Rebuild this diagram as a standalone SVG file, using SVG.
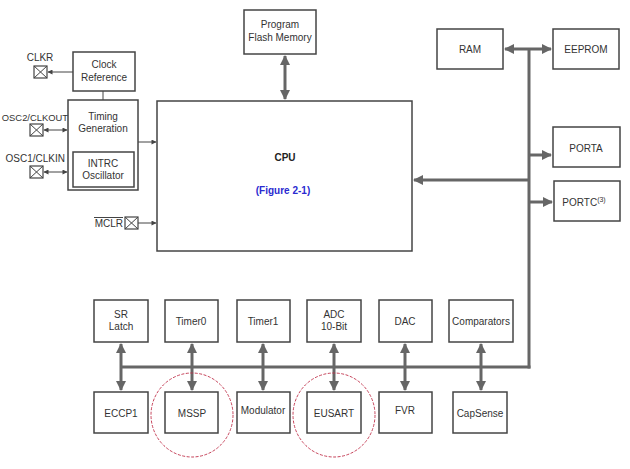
<svg xmlns="http://www.w3.org/2000/svg" width="630" height="469" viewBox="0 0 630 469">
<defs>
<style>
.box{fill:#fff;stroke:#444;stroke-width:1.5}
.t{font-family:"Liberation Sans",Arial,sans-serif;font-size:10px;fill:#333;text-anchor:middle}
.bus{stroke:#666;stroke-width:3;fill:none}
.thin{stroke:#444;stroke-width:1;fill:none}
.pin{fill:#fff;stroke:#444;stroke-width:1.2}
.ring{fill:none;stroke:#c0304a;stroke-width:0.9;stroke-dasharray:3 1.5}
</style>
<marker id="ah" viewBox="0 0 10 10" refX="9" refY="5" markerWidth="10" markerHeight="10" markerUnits="userSpaceOnUse" orient="auto-start-reverse">
<path d="M0,0 L10,5 L0,10 z" fill="#666"/>
</marker>
<marker id="sh" viewBox="0 0 10 10" refX="9" refY="5" markerWidth="6" markerHeight="5" markerUnits="userSpaceOnUse" orient="auto-start-reverse">
<path d="M0,0 L10,5 L0,10 z" fill="#444"/>
</marker>
</defs>
<rect width="630" height="469" fill="#fff"/>

<g id="connectors">
<line class="bus" x1="285" y1="56" x2="285" y2="99" marker-start="url(#ah)" marker-end="url(#ah)"/>
<line class="thin" x1="103" y1="91" x2="103" y2="100"/>
<line class="thin" x1="73" y1="72" x2="48" y2="72" marker-end="url(#sh)"/>
<line class="thin" x1="44" y1="130" x2="67" y2="130" marker-start="url(#sh)" marker-end="url(#sh)"/>
<line class="thin" x1="44" y1="172" x2="67" y2="172" marker-start="url(#sh)" marker-end="url(#sh)"/>
<line class="thin" x1="138" y1="142" x2="156" y2="142" marker-end="url(#sh)"/>
<line class="thin" x1="138" y1="223" x2="156" y2="223" marker-end="url(#sh)"/>
<line class="bus" x1="529" y1="49" x2="529" y2="368.5"/>
<line class="bus" x1="120" y1="367" x2="530.5" y2="367"/>
<line class="bus" x1="505" y1="49" x2="551" y2="49" marker-start="url(#ah)" marker-end="url(#ah)"/>
<line class="bus" x1="529" y1="155" x2="551" y2="155" marker-end="url(#ah)"/>
<line class="bus" x1="529" y1="202" x2="552" y2="202" marker-end="url(#ah)"/>
<line class="bus" x1="529" y1="180" x2="414" y2="180" marker-end="url(#ah)"/>
<line class="bus" x1="121" y1="344" x2="121" y2="390" marker-start="url(#ah)" marker-end="url(#ah)"/>
<line class="bus" x1="192" y1="344" x2="192" y2="390" marker-start="url(#ah)" marker-end="url(#ah)"/>
<line class="bus" x1="263" y1="344" x2="263" y2="390" marker-start="url(#ah)" marker-end="url(#ah)"/>
<line class="bus" x1="334" y1="344" x2="334" y2="390" marker-start="url(#ah)" marker-end="url(#ah)"/>
<line class="bus" x1="405" y1="344" x2="405" y2="390" marker-start="url(#ah)" marker-end="url(#ah)"/>
<line class="bus" x1="481" y1="344" x2="481" y2="390" marker-start="url(#ah)" marker-end="url(#ah)"/>
</g>

<g id="flash"><rect class="box" x="244" y="10" width="72" height="44"/><text class="t" x="280" y="28">Program</text><text class="t" x="280" y="41">Flash Memory</text></g>
<g id="clockref"><rect class="box" x="73" y="52" width="62" height="39"/><text class="t" x="104" y="68">Clock</text><text class="t" x="104" y="81">Reference</text></g>
<g id="timing"><rect class="box" x="68" y="100" width="70" height="90"/><text class="t" x="103" y="120">Timing</text><text class="t" x="103" y="132">Generation</text></g>
<g id="intrc"><rect class="box" x="73" y="152" width="61" height="35"/><text class="t" x="103" y="167">INTRC</text><text class="t" x="103" y="179">Oscillator</text></g>

<g id="clkr"><text class="t" x="40" y="61">CLKR</text><rect class="pin" x="34" y="66" width="13" height="12"/><path class="thin" d="M34,66 L47,78 M47,66 L34,78"/></g>
<g id="osc2"><text class="t" x="68" y="121" style="text-anchor:end;font-size:9.4px">OSC2/CLKOUT</text><rect class="pin" x="30" y="124" width="13" height="12"/><path class="thin" d="M30,124 L43,136 M43,124 L30,136"/></g>
<g id="osc1"><text class="t" x="65" y="162" style="text-anchor:end">OSC1/CLKIN</text><rect class="pin" x="30" y="166" width="13" height="12"/><path class="thin" d="M30,166 L43,178 M43,166 L30,178"/></g>
<g id="mclr"><text class="t" x="123" y="227" style="text-anchor:end">MCLR</text><line class="thin" x1="94" y1="217.5" x2="123" y2="217.5"/><rect class="pin" x="125" y="217" width="13" height="12"/><path class="thin" d="M125,217 L138,229 M138,217 L125,229"/></g>

<g id="cpu"><rect class="box" x="157" y="101" width="255" height="150"/><text class="t" x="285" y="161" style="font-weight:bold;fill:#222">CPU</text><text class="t" x="283" y="194" style="font-weight:bold;fill:#2a2ad0">(Figure 2-1)</text></g>

<g id="ram"><rect class="box" x="437" y="29" width="66" height="40"/><text class="t" x="470" y="53">RAM</text></g>
<g id="eeprom"><rect class="box" x="553" y="29" width="66" height="40"/><text class="t" x="586" y="53">EEPROM</text></g>
<g id="porta"><rect class="box" x="553" y="127" width="67" height="40"/><text class="t" x="586" y="152">PORTA</text></g>
<g id="portc"><rect class="box" x="554" y="181" width="66" height="40"/><text class="t" x="584" y="206">PORTC<tspan dy="-4" font-size="7">(3)</tspan></text></g>

<g id="srlatch"><rect class="box" x="94" y="300" width="54" height="42"/><text class="t" x="121" y="318">SR</text><text class="t" x="121" y="330">Latch</text></g>
<g id="timer0"><rect class="box" x="165" y="300" width="53" height="42"/><text class="t" x="191" y="325">Timer0</text></g>
<g id="timer1"><rect class="box" x="237" y="300" width="53" height="42"/><text class="t" x="263" y="325">Timer1</text></g>
<g id="adc"><rect class="box" x="307" y="300" width="54" height="42"/><text class="t" x="334" y="318">ADC</text><text class="t" x="334" y="330">10-Bit</text></g>
<g id="dac"><rect class="box" x="379" y="300" width="53" height="42"/><text class="t" x="405" y="325">DAC</text></g>
<g id="comparators"><rect class="box" x="449" y="300" width="64" height="42"/><text class="t" x="481" y="325">Comparators</text></g>

<g id="eccp1"><rect class="box" x="94" y="392" width="54" height="41"/><text class="t" x="121" y="417">ECCP1</text></g>
<g id="mssp"><rect class="box" x="165" y="392" width="53" height="41"/><text class="t" x="192" y="417">MSSP</text></g>
<g id="modulator"><rect class="box" x="237" y="392" width="53" height="41"/><text class="t" x="263" y="414">Modulator</text></g>
<g id="eusart"><rect class="box" x="307" y="392" width="54" height="41"/><text class="t" x="334" y="417">EUSART</text></g>
<g id="fvr"><rect class="box" x="379" y="392" width="53" height="41"/><text class="t" x="405" y="414">FVR</text></g>
<g id="capsense"><rect class="box" x="453" y="392" width="54" height="41"/><text class="t" x="480" y="417">CapSense</text></g>

<g id="highlights">
<ellipse class="ring" cx="192" cy="415" rx="41" ry="42"/>
<ellipse class="ring" cx="334" cy="415" rx="41" ry="42"/>
</g>
</svg>
